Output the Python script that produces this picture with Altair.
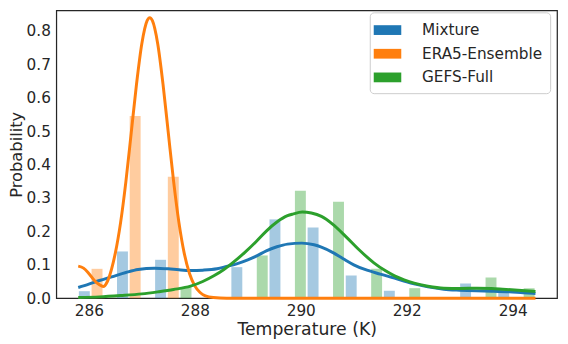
import altair as alt
import pandas as pd

series = ["Mixture", "ERA5-Ensemble", "GEFS-Full"]
colors = ["#1f77b4", "#ff7f0e", "#2ca02c"]

# histogram bins
bin_start = 285.795
bin_width = 0.7196
mixture_hist = [0.021, 0.140, 0.115, 0.0, 0.093, 0.236, 0.212, 0.068, 0.022, 0.0, 0.044, 0.022]
era5_hist = [0.088, 0.546, 0.364, 0.0, 0.0, 0.0, 0.0, 0.0, 0.0, 0.0, 0.0, 0.0]
gefs_hist = [0.0, 0.0, 0.033, 0.0, 0.128, 0.322, 0.289, 0.088, 0.030, 0.0, 0.062, 0.030]

# density curves
mixture_x = [285.80, 286.00, 286.20, 286.43, 286.70, 286.93, 287.24, 287.50, 287.70, 287.92,
             288.15, 288.42, 288.60, 288.79, 289.00, 289.16, 289.35, 289.55, 289.75, 290.02,
             290.25, 290.40, 290.59, 290.80, 291.00, 291.21, 291.50, 291.77, 292.00, 292.14,
             292.40, 292.70, 293.00, 293.32, 293.60, 293.94, 294.20, 294.43]
mixture_y = [0.032, 0.042, 0.053, 0.064, 0.077, 0.086, 0.090, 0.088, 0.085, 0.083,
             0.084, 0.088, 0.095, 0.103, 0.115, 0.126, 0.142, 0.154, 0.162, 0.165,
             0.160, 0.152, 0.138, 0.118, 0.100, 0.086, 0.072, 0.060, 0.049, 0.043,
             0.034, 0.027, 0.024, 0.022, 0.021, 0.019, 0.016, 0.014]

era5_x = [285.80, 285.90, 286.00, 286.10, 286.20, 286.27, 286.35, 286.43, 286.50, 286.60,
          286.70, 286.80, 286.90, 287.00, 287.10, 287.15, 287.20, 287.30, 287.40, 287.50,
          287.60, 287.70, 287.80, 287.90, 288.00, 288.10, 288.20, 288.35, 288.60, 294.43]
era5_y = [0.096, 0.090, 0.074, 0.054, 0.040, 0.035, 0.050, 0.088, 0.135, 0.227,
          0.350, 0.495, 0.641, 0.762, 0.831, 0.840, 0.831, 0.762, 0.641, 0.495,
          0.350, 0.227, 0.135, 0.074, 0.037, 0.017, 0.007, 0.002, 0.000, 0.000]

gefs_x = [285.80, 286.20, 286.60, 287.00, 287.30, 287.60, 287.92, 288.15, 288.36, 288.55,
          288.73, 288.95, 289.16, 289.35, 289.55, 289.75, 289.85, 290.03, 290.20, 290.39,
          290.60, 290.88, 291.10, 291.38, 291.60, 291.77, 291.95, 292.14, 292.40, 292.70,
          293.00, 293.32, 293.60, 293.81, 294.10, 294.43]
gefs_y = [0.002, 0.004, 0.008, 0.013, 0.019, 0.026, 0.036, 0.050, 0.067, 0.086,
          0.108, 0.138, 0.170, 0.201, 0.228, 0.247, 0.252, 0.258, 0.255, 0.245,
          0.222, 0.180, 0.145, 0.106, 0.082, 0.067, 0.055, 0.045, 0.036, 0.030,
          0.029, 0.030, 0.029, 0.027, 0.024, 0.020]

x_ticks = [286, 288, 290, 292, 294]
y_ticks = [0.0, 0.1, 0.2, 0.3, 0.4, 0.5, 0.6, 0.7, 0.8]

FONT = "DejaVu Sans"
TXT = "#262626"

# bar table
hists = [mixture_hist, era5_hist, gefs_hist]
rows = []
third = bin_width / 3
gap = third * 0.07
for si, s in enumerate(series):
    for k, v in enumerate(hists[si]):
        if v <= 0:
            continue
        left = bin_start + k * bin_width
        rows.append({"s": s, "x": left + si * third + gap, "x2": left + (si + 1) * third - gap,
                     "v": v, "z": 0.0})
bars_df = pd.DataFrame(rows)

xscale = alt.Scale(domain=[285.386, 294.837], nice=False, zero=False)
yscale = alt.Scale(domain=[0, 0.862], nice=False)
cscale = alt.Scale(domain=series, range=colors)

xaxis = alt.Axis(values=x_ticks, format="d", title="Temperature (K)", grid=False, domain=False,
                 ticks=False, labelPadding=6, labelFontSize=15.5, labelFont=FONT, labelColor=TXT,
                 labelOverlap=False, labelFlush=False,
                 titleFontSize=17.5, titleFont=FONT, titleColor=TXT, titleFontWeight="normal",
                 titlePadding=1)
yaxis = alt.Axis(values=y_ticks, format=".1f", title="Probability", grid=False, domain=False,
                 ticks=False, labelPadding=6, labelFontSize=15.5, labelFont=FONT, labelColor=TXT,
                 labelOverlap=False, labelFlush=False,
                 titleFontSize=16.5, titleFont=FONT, titleColor=TXT, titleFontWeight="normal",
                 titleX=-40, titleBaseline="middle")

legend = alt.Legend(title=None, orient="none", legendX=318, legendY=2,
                    symbolType="M-1.27,-0.45L1.27,-0.45L1.27,0.45L-1.27,0.45Z", symbolSize=484,
                    symbolOpacity=1, symbolStrokeWidth=0, labelFontSize=15.5, labelFont=FONT,
                    labelColor=TXT, fillColor="white", strokeColor="#cccccc", cornerRadius=4,
                    padding=7, rowPadding=4, labelOffset=24)

bars = alt.Chart(bars_df).mark_rect(opacity=0.4).encode(
    x=alt.X("x:Q", scale=xscale, axis=xaxis),
    x2="x2:Q",
    y=alt.Y("v:Q", scale=yscale, axis=yaxis),
    y2="z:Q",
    color=alt.Color("s:N", scale=cscale, legend=legend, sort=series),
)

def curve(name, xs, ys):
    df = pd.DataFrame({"x": xs, "v": ys, "s": name})
    return alt.Chart(df).mark_line(strokeWidth=3, interpolate="monotone").encode(
        x=alt.X("x:Q", scale=xscale, axis=xaxis),
        y=alt.Y("v:Q", scale=yscale, axis=yaxis),
        color=alt.Color("s:N", scale=cscale, legend=None),
    )

lines = [curve("Mixture", mixture_x, mixture_y),
         curve("ERA5-Ensemble", era5_x, era5_y),
         curve("GEFS-Full", gefs_x, gefs_y)]

chart = alt.layer(bars, *lines).resolve_legend(color="independent").properties(
    width=508, height=292, autosize="none",
    padding={"left": 49, "top": 0, "right": 3, "bottom": 40},
).configure_view(stroke="#262626", strokeWidth=1.25)

chart.save("out.html", embed_options={"renderer": "svg", "actions": False})
